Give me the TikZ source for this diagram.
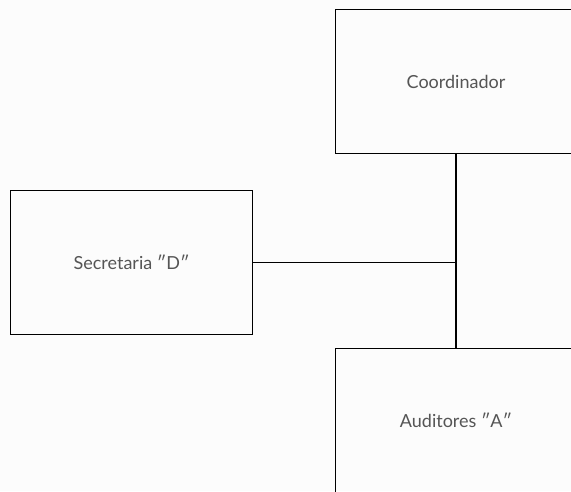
\documentclass[tikz,border=0pt]{standalone}
\usepackage{fontspec}
\setmainfont{Lato}
\usetikzlibrary{positioning}
\definecolor{paper}{RGB}{252,252,252}
\definecolor{ink}{RGB}{85,85,85}

\begin{document}
\begin{tikzpicture}[x=1pt, y=-1pt,
  box/.style={draw, line width=0.8pt, minimum width=242pt, minimum height=144pt,
    inner sep=0pt, text=ink, font=\fontsize{18}{21}\selectfont},
  link/.style={draw, line width=0.8pt}]
  \fill[paper] (0,0) rectangle (571,491);
  \clip (0,0) rectangle (571,491);

  % boxes
  \node[box] (coord) at (456,81.5) {Coordinador};
  \node[box] (secr) at (131.5,262) {Secretaria ″D″};
  \node[box] (audit) at (456,420.5) {Auditores ″A″};

  % lines
  \coordinate (joint) at (coord.south |- secr.east);
  \draw[link, line width=1.6pt] (coord.south) -- (audit.north);
  \draw[link] (secr.east) -- (joint);
\end{tikzpicture}
\end{document}
